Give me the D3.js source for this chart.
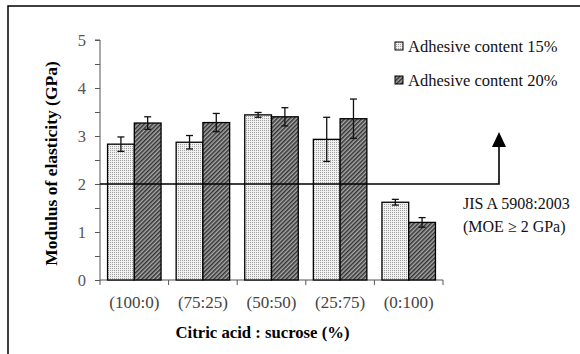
<!DOCTYPE html>
<html>
<head>
<meta charset="utf-8">
<script src="https://cdn.jsdelivr.net/npm/d3@7"></script>
<style>
  body { margin: 0; background: #fff; }
  svg text { font-family: "Liberation Serif", "DejaVu Serif", "Times New Roman", Times, serif; }
</style>
</head>
<body>
<div id="chart"></div>
<script>
const categories = ["(100:0)", "(75:25)", "(50:50)", "(25:75)", "(0:100)"];
const seriesNames = ["Adhesive content 15%", "Adhesive content 20%"];
const moe15 = [2.83, 2.87, 3.44, 2.93, 1.62];
const err15 = [0.15, 0.14, 0.05, 0.46, 0.06];
const moe20 = [3.27, 3.28, 3.40, 3.36, 1.20];
const err20 = [0.13, 0.19, 0.19, 0.41, 0.10];
const yTicks = [0, 1, 2, 3, 4, 5];
const standardValue = 2;
const standardLines = ["JIS A 5908:2003", "(MOE \u2265 2 GPa)"];

const serif = "'Liberation Serif', 'DejaVu Serif', serif";
const width = 580, height = 354;
const svg = d3.select("#chart").append("svg")
    .attr("width", width)
    .attr("height", height)
    .attr("font-family", serif);

// patterns
const defs = svg.append("defs");
const dots = defs.append("pattern")
    .attr("id", "dots").attr("patternUnits", "userSpaceOnUse")
    .attr("width", 2).attr("height", 2);
dots.append("rect").attr("width", 2).attr("height", 2).attr("fill", "#f0f0f0");
dots.append("rect").attr("width", 1).attr("height", 1).attr("fill", "#a0a0a0");

const hatch = defs.append("pattern")
    .attr("id", "hatch").attr("patternUnits", "userSpaceOnUse")
    .attr("width", 3).attr("height", 3)
    .attr("patternTransform", "rotate(-45)");
hatch.append("rect").attr("width", 3).attr("height", 3).attr("fill", "#a8a8a8");
hatch.append("rect").attr("width", 3).attr("height", 1.5).attr("fill", "#333");

const fills = ["url(#dots)", "url(#hatch)"];

// frame
svg.append("rect")
    .attr("x", 8).attr("y", 6)
    .attr("width", 580).attr("height", 360)
    .attr("fill", "none").attr("stroke", "#000").attr("stroke-width", 1.5);

const plotLeft = 100, plotRight = 443, plotTop = 40, plotBottom = 280;

const y = d3.scaleLinear().domain([0, 5]).range([plotBottom, plotTop]);
const xCat = d3.scaleBand().domain(categories).range([plotLeft, plotRight]);
const x = d3.scaleBand().domain(categories).range([plotLeft, plotRight])
    .paddingInner(0.22).paddingOuter(0.11);
const xSub = d3.scaleBand().domain([0, 1]).range([0, x.bandwidth()]);

// y axis
const yAxis = d3.axisLeft(y)
    .tickValues(d3.range(0, 5.01, 0.5))
    .tickSize(5)
    .tickFormat(d => yTicks.includes(d) ? d : "");
const gy = svg.append("g")
    .attr("transform", `translate(${plotLeft},0)`)
    .call(yAxis)
    .attr("font-family", serif);
gy.select(".domain").attr("stroke", "#555").attr("d", `M-5,${plotTop}H0V${plotBottom}`);
gy.selectAll(".tick line").attr("stroke", "#555");
gy.selectAll(".tick text")
    .attr("x", -14)
    .attr("fill", "#555")
    .style("font-size", "16.5px");

// x axis
const gx = svg.append("g").attr("transform", `translate(0,${plotBottom})`);
gx.append("line")
    .attr("x1", plotLeft).attr("x2", plotRight)
    .attr("stroke", "#555");
gx.selectAll(".bound")
    .data(categories.map(c => xCat(c)).concat([plotRight]))
    .join("line")
    .attr("x1", d => d).attr("x2", d => d)
    .attr("y1", 0).attr("y2", 5)
    .attr("stroke", "#555");
gx.selectAll(".lab")
    .data(categories)
    .join("text")
    .attr("x", d => xCat(d) + xCat.bandwidth() / 2)
    .attr("y", 28)
    .attr("text-anchor", "middle")
    .attr("fill", "#444")
    .style("font-size", "17px")
    .text(d => d);

// bars
const seriesVals = [moe15, moe20];
const seriesErr = [err15, err20];
seriesVals.forEach((vals, s) => {
    const g = svg.append("g");
    g.selectAll("rect")
        .data(categories)
        .join("rect")
        .attr("x", (c) => x(c) + xSub(s))
        .attr("y", (c, i) => y(vals[i]))
        .attr("width", xSub.bandwidth())
        .attr("height", (c, i) => plotBottom - y(vals[i]))
        .attr("fill", fills[s])
        .attr("stroke", "#000")
        .attr("stroke-width", 1.3);
});

// error bars
seriesVals.forEach((vals, s) => {
    const g = svg.append("g").attr("stroke", "#111").attr("stroke-width", 1.3);
    categories.forEach((c, i) => {
        const cx = x(c) + xSub(s) + xSub.bandwidth() / 2;
        const hi = y(vals[i] + seriesErr[s][i]);
        const lo = y(vals[i] - seriesErr[s][i]);
        g.append("line").attr("x1", cx).attr("x2", cx).attr("y1", hi).attr("y2", lo);
        g.append("line").attr("x1", cx - 3.5).attr("x2", cx + 3.5).attr("y1", hi).attr("y2", hi);
        g.append("line").attr("x1", cx - 3.5).attr("x2", cx + 3.5).attr("y1", lo).attr("y2", lo);
    });
});

// standard line with arrow
const arrowX = 499;
const ys = y(standardValue);
svg.append("path")
    .attr("d", `M${plotLeft},${ys}H${arrowX}V146`)
    .attr("fill", "none")
    .attr("stroke", "#000")
    .attr("stroke-width", 1.6);
svg.append("path")
    .attr("d", `M${arrowX},132L${arrowX + 7},147L${arrowX - 7},147Z`)
    .attr("fill", "#000");

svg.selectAll(".std")
    .data(standardLines)
    .join("text")
    .attr("x", 463)
    .attr("y", (d, i) => 209 + i * 22.5)
    .attr("fill", "#111")
    .style("font-size", "16px")
    .text(d => d);

// legend
const leg = svg.append("g");
seriesNames.forEach((name, i) => {
    const ly = 46 + i * 34;
    leg.append("rect")
        .attr("x", 395).attr("y", ly - 4)
        .attr("width", 8).attr("height", 8)
        .attr("fill", fills[i])
        .attr("stroke", "#000").attr("stroke-width", 1);
    leg.append("text")
        .attr("x", 408).attr("y", ly + 6)
        .attr("fill", "#111")
        .style("font-size", "16.5px")
        .text(name);
});

// axis titles
svg.append("text")
    .attr("transform", "translate(57,163.5) rotate(-90)")
    .attr("text-anchor", "middle")
    .style("font-size", "17.5px")
    .style("font-weight", "bold")
    .text("Modulus of elasticity (GPa)");

svg.append("text")
    .attr("x", 262.5).attr("y", 338)
    .attr("text-anchor", "middle")
    .style("font-size", "16.7px")
    .style("font-weight", "bold")
    .text("Citric acid : sucrose (%)");
</script>
</body>
</html>
